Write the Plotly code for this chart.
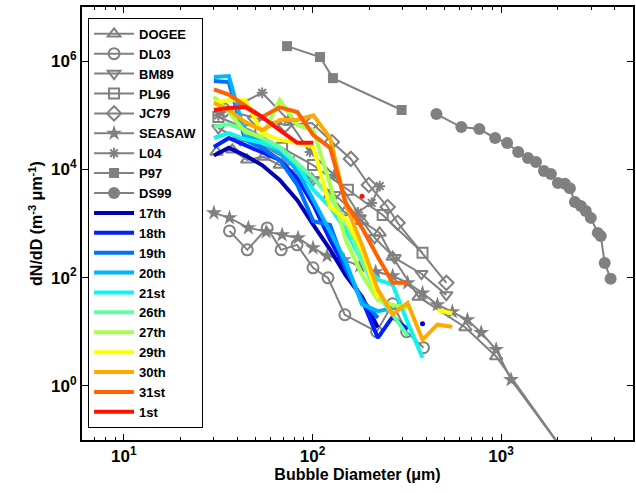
import plotly.graph_objects as go

# ---------------- data ----------------
# size bins (um) shared by the daily colored spectra
bins = [30, 36, 44, 54, 67, 83, 101, 124, 150, 183, 222, 266, 319, 383, 459, 551]

d17 = [1.8e4, 2.5e4, 1.8e4, 1.2e4, 6.4e3, 2.7e3, 940, 330, 110, 44, 12]
d18 = [2.6e4, 3.8e4, 2.8e4, 2.1e4, 1.5e4, 6.9e3, 2.2e3, 500, 140, 39, 7.7, 19, 11]
d19 = [4.3e5, 4.1e5, 3.5e4, 2.5e4, 1.5e4, 5.2e3, 1.1e3, 940, 150, 39, 18]
d20 = [5.1e5, 5.3e5, 4.3e4, 3.2e4, 2.1e4, 9.7e3, 2.7e3, 670, 200, 32, 24, 27]
d21 = [3.8e4, 4.7e4, 3.6e4, 3.1e4, 2.4e4, 1.2e4, 4.2e3, 2.0e3, 760, 200, 91, 74, 15, 3.3]
d26 = [6.1e4, 6.9e4, 5.3e4, 3.8e4, 2.6e4, 1.3e4, 6.9e3, 3.1e3, 1.1e3, 200, 48, 21, 8.4]
d27 = [2.2e5, 1.15e5, 4.9e4, 4.0e4, 1.9e5, 6.6e4, 5.3e4, 5.2e3, 500, 113, 39, 31, 28]
d29 = [1.7e5, 1.9e5, 1.9e5, 4.7e4, 3.5e4, 3.1e4, 2.6e4, 2.0e3, 1.2e3, 330, 42, None, None, None, 25, 22]
d30 = [1.7e5, 1.25e5, 7.5e4, 5.3e4, 8.2e4, 8.2e4, 1.0e5, 3.8e4, 2.2e3, 400, 60, 21, 34, 7.1, 13.5, 12.4]
d31 = [3.0e5, 2.4e5, 1.5e5, 9.3e4, 1.4e5, 1.15e5, 4.3e4, 2.5e4, 2.4e3, 830, 240, 80, 80]
d1 = [1.25e5, 1.36e5, 1.42e5, 9.3e4, 5.3e4, 3.1e4, 3.1e4]

# isolated single bins
dot17_D, dot17_N = [383], [14]
dot1_D, dot1_N = [183], [3.2e3]

day_names = ["17th", "18th", "19th", "20th", "21st", "26th", "27th", "29th", "30th", "31st", "1st"]
day_data = [d17, d18, d19, d20, d21, d26, d27, d29, d30, d31, d1]
day_colors = ["#0000B4", "#0020FF", "#0070FF", "#00B4FF", "#10F4F0", "#60FFA0",
              "#A8FF50", "#FFFF00", "#FFAA00", "#FF6000", "#FF1000"]

# literature spectra
DOGEE_D = [31, 37.6, 45, 55, 67, 82, 99, 124, 148, 183, 227, 266, 365, 646, 941, 2500]
DOGEE_N = [2.1e4, 2.3e4, 1.5e4, 1.7e4, 1.2e4, 9.0e3, 6.7e3, 3.4e3, 1.6e3, 1.1e3, 670, 240, 44, 12, 3.5, 0.03]

DL03_D = [36.3, 45.1, 57.5, 68.2, 82.8, 100.6, 120.8, 148.4, 218.9, 266, 315.5, 387.6]
DL03_N = [730, 326, 830, 326, 403, 152, 99, 20.6, 10.0, 32.9, 10.0, 5.07]

BM89_D = [31.7, 41.4, 54.1, 74.2, 100.6, 131.5, 178, 213.6, 272.5, 378, 512]
BM89_N = [5.8e4, 3.5e4, 2.8e4, 1.5e4, 6.4e3, 3.4e3, 1.27e3, 542, 232, 118, 48]

PL96_D = [31.7, 46.8, 69, 100.6, 154, 235.5, 383]
PL96_N = [9.3e4, 5.3e4, 2.5e4, 1.2e4, 4.2e3, 1.44e3, 287]

JC79_D = [34.5, 49.7, 71.6, 99.4, 126.7, 159.7, 198.8, 250.3, 282.6, 512.5]
JC79_N = [1.25e5, 8.9e4, 6.6e4, 7.2e4, 3.2e4, 1.56e4, 5.15e3, 2.02e3, 1.03e3, 80]

SEASAW_D = [30, 36.3, 45.7, 56.8, 69, 83.8, 100.6, 119.4, 146.6, 178.1, 216.2, 266,
            319.4, 383, 459.3, 551, 662, 784, 941, 1129, 2500]
SEASAW_N = [1570, 1270, 830, 700, 616, 542, 355, 252, 213, 165, 128, 108,
            80, 52, 31.5, 23.4, 16.6, 9.6, 4.7, 1.3, 0.03]

L04_D = [31.7, 41.4, 54.1, 74.2, 97, 129.8, 173.8, 205.9, 227.1]
L04_N = [1.0e5, 1.6e5, 2.6e5, 8.2e4, 2.1e4, 7.9e3, 1.6e3, 2.4e3, 4.9e3]

P97_D = [73.3, 109.6, 128.3, 296.7]
P97_N = [1.89e6, 1.19e6, 4.85e5, 1.25e5]

DS99_D = [454, 615, 766, 929, 1076, 1231, 1388, 1530, 1686, 1836, 2000, 2178, 2314,
          2459, 2645, 2810, 2988, 3253, 3373, 3540, 3806]
DS99_N = [1.05e5, 6.06e4, 5.56e4, 3.8e4, 3.07e4, 2.09e4, 1.62e4, 1.37e4, 9.3e3, 8.2e3,
          5.6e3, 5.4e3, 4.5e3, 2.5e3, 2.1e3, 1.71e3, 1.27e3, 671, 590, 187, 95]

x_tickvals = [10, 100, 1000]
x_ticktext = ["10<sup>1</sup>", "10<sup>2</sup>", "10<sup>3</sup>"]
y_tickvals = [1, 100, 1e4, 1e6]
y_ticktext = ["10<sup>0</sup>", "10<sup>2</sup>", "10<sup>4</sup>", "10<sup>6</sup>"]
x_minor = [m * 10 ** e for e in range(0, 4) for m in range(2, 10) if 6 <= m * 10 ** e <= 5000]

# ---------------- figure ----------------
GRAY = "#808080"
fig = go.Figure()

lit = [
    ("DOGEE", DOGEE_D, DOGEE_N, "triangle-up-open", 11),
    ("DL03", DL03_D, DL03_N, "circle-open", 11),
    ("BM89", BM89_D, BM89_N, "triangle-down-open", 11),
    ("PL96", PL96_D, PL96_N, "square-open", 10),
    ("JC79", JC79_D, JC79_N, "diamond-open", 11),
    ("SEASAW", SEASAW_D, SEASAW_N, "star", 12),
    ("L04", L04_D, L04_N, "asterisk-open", 9),
    ("P97", P97_D, P97_N, "square", 10),
    ("DS99", DS99_D, DS99_N, "circle", 12),
]
for name, xs, ys, sym, sz in lit:
    fig.add_trace(go.Scatter(
        x=xs, y=ys, name=name, mode="lines+markers",
        line=dict(color=GRAY, width=2),
        marker=dict(symbol=sym, size=sz, color=GRAY,
                    line=dict(color=GRAY, width=2 if "open" in sym else 0)),
    ))

for name, ys, col in zip(day_names, day_data, day_colors):
    fig.add_trace(go.Scatter(
        x=bins[:len(ys)], y=ys, name=name, mode="lines",
        line=dict(color=col, width=4), connectgaps=False,
    ))

fig.add_trace(go.Scatter(x=dot17_D, y=dot17_N, mode="markers", showlegend=False,
                         marker=dict(color="#0000C8", size=5)))
fig.add_trace(go.Scatter(x=dot1_D, y=dot1_N, mode="markers", showlegend=False,
                         marker=dict(color="#FF1000", size=5)))

axis_common = dict(
    showline=True, linecolor="black", linewidth=2, mirror="allticks",
    ticks="inside", tickcolor="black", tickwidth=1, showgrid=False, zeroline=False,
    tickfont=dict(size=17, color="black"), automargin=False,
)

fig.update_layout(
    width=636, height=493,
    margin=dict(l=82, r=3, t=7, b=53, autoexpand=False),
    paper_bgcolor="white", plot_bgcolor="white",
    font=dict(family="Liberation Sans, Arial, sans-serif", size=14, color="black", weight="bold"),
    xaxis=dict(type="log", range=[0.778, 3.699], tickmode="array",
               tickvals=x_tickvals, ticktext=x_ticktext, ticklen=6,
               minor=dict(tickvals=x_minor, ticks="inside", ticklen=3, tickcolor="black", tickwidth=1),
               title=dict(text="Bubble Diameter (μm)", font=dict(size=16), standoff=2),
               **axis_common),
    yaxis=dict(type="log", range=[-1, 7], tickmode="array",
               tickvals=y_tickvals, ticktext=y_ticktext, ticklen=6,
               title=dict(text="dN/dD (m<sup>-3</sup> μm<sup>-1</sup>)", font=dict(size=16), standoff=4),
               **axis_common),
    legend=dict(x=0.011, y=0.975, xanchor="left", yanchor="top",
                bgcolor="white", bordercolor="black", borderwidth=1,
                font=dict(size=13), tracegroupgap=0, itemwidth=40, maxheight=460),
    showlegend=True,
)

fig.write_html("out.html", config={"displayModeBar": False},
               post_script="document.body.style.margin='0px';document.body.style.overflow='hidden';")
